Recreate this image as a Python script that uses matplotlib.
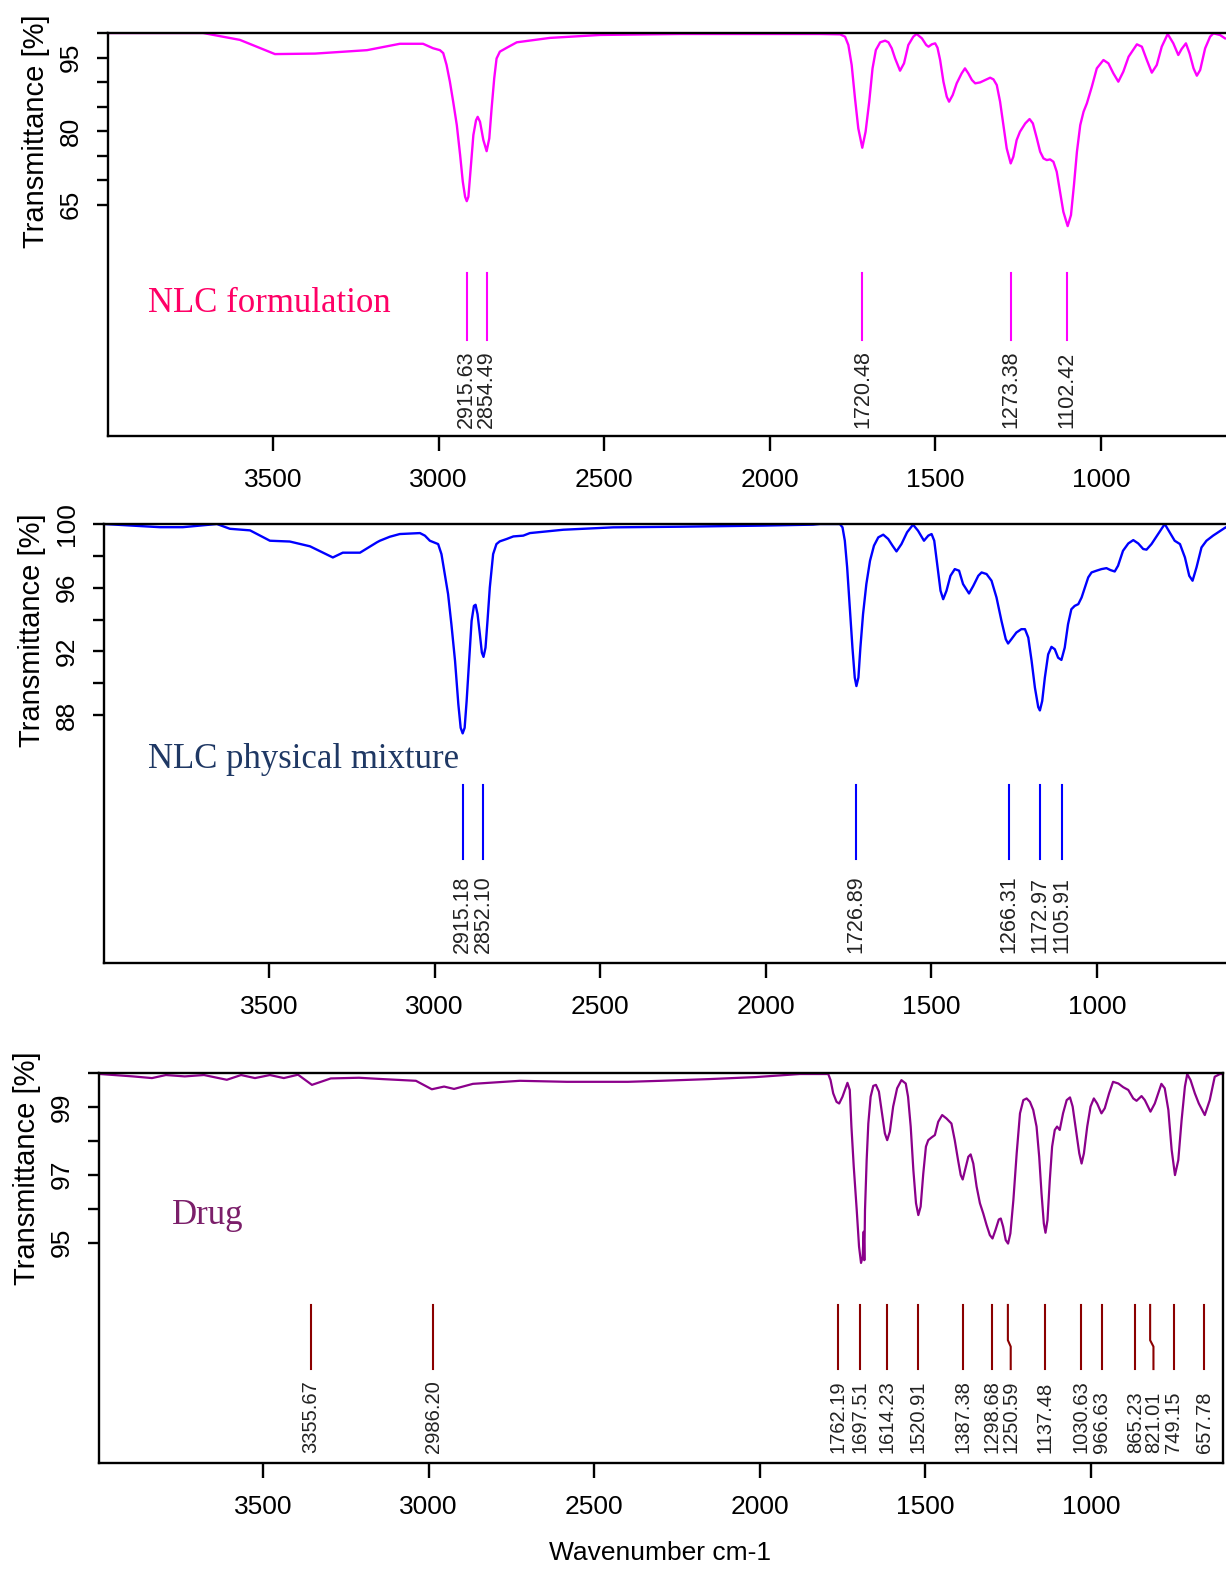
import matplotlib
matplotlib.use('Agg')
from matplotlib import pyplot as plt
from matplotlib import font_manager as fm

# ---- data ----
form_wn = [3998, 3711, 3600, 3494, 3373, 3216, 3117, 3047, 3017, 2996, 2986, 2976,
           2966, 2956, 2945, 2935, 2927, 2920, 2915, 2910, 2903, 2895, 2887, 2882,
           2875, 2865, 2855, 2847, 2840, 2832, 2825, 2815, 2794, 2764, 2664, 2513,
           2271, 1848, 1788, 1773, 1763, 1753, 1743, 1733, 1721, 1711, 1700, 1690,
           1680, 1667, 1652, 1642, 1632, 1622, 1607, 1595, 1582, 1567, 1557, 1541,
           1528, 1521, 1511, 1501, 1494, 1486, 1476, 1466, 1459, 1448, 1436, 1421,
           1411, 1401, 1390, 1380, 1365, 1350, 1335, 1325, 1315, 1305, 1295, 1285,
           1273, 1265, 1255, 1245, 1229, 1216, 1206, 1194, 1184, 1174, 1164, 1154,
           1144, 1134, 1124, 1114, 1101, 1091, 1082, 1073, 1063, 1053, 1043, 1028,
           1013, 993, 978, 963, 948, 933, 917, 892, 877, 862, 847, 832, 817, 799,
           782, 767, 757, 744, 733, 721, 711, 701, 686, 671, 661, 641, 626]
form_tr = [100, 100, 98.6, 95.7, 95.8, 96.5, 97.8, 97.8, 96.9, 96.5, 95.9, 93.5,
           90.1, 86.0, 81.2, 75.1, 69.7, 66.6, 65.7, 66.6, 72.4, 79.2, 82.2, 82.9,
           81.9, 78.2, 75.9, 78.5, 84.6, 90.8, 94.8, 96.2, 97.0, 98.1, 99.0, 99.6,
           99.8, 99.8, 99.73, 99.25, 97.55, 93.47, 86.67, 80.54, 76.6, 79.86, 85.99, 92.79,
           96.53, 98.10, 98.44, 98.10, 96.87, 94.83, 92.31, 93.81, 97.55, 99.25, 99.80, 98.91,
           97.55, 97.21, 97.69, 97.89, 97.01, 94.49, 90.07, 87.01, 85.99, 87.35, 89.73, 91.77,
           92.79, 91.77, 90.41, 89.73, 89.93, 90.41, 90.88, 90.54, 89.39, 85.99, 81.22, 76.46,
           73.4, 74.76, 78.16, 79.86, 81.56, 82.45, 81.56, 78.50, 75.78, 74.42, 74.08, 74.22,
           73.74, 71.70, 67.62, 63.54, 60.61, 62.86, 68.98, 75.78, 81.22, 83.95, 85.65, 89.05,
           92.79, 94.49, 93.81, 91.77, 90.07, 92.11, 95.17, 97.69, 97.21, 94.49, 91.91, 93.47,
           97.21, 99.80, 97.89, 95.51, 96.73, 97.89, 95.85, 92.79, 91.29, 92.45, 96.87, 99.25,
           99.93, 99.59, 98.91]
form_peaks = [2915.63, 2854.49, 1720.48, 1273.38, 1102.42]
form_labels = ['2915.63', '2854.49', '1720.48', '1273.38', '1102.42']

mix_wn = [3998, 3829, 3760, 3657, 3618, 3557, 3497, 3437, 3376, 3307, 3277, 3225,
          3174, 3165, 3135, 3105, 3044, 3029, 3014, 2989, 2979, 2969, 2959, 2949,
          2938, 2928, 2921, 2915, 2909, 2903, 2895, 2888, 2881, 2876, 2870, 2863,
          2857, 2852, 2846, 2840, 2833, 2823, 2813, 2803, 2782, 2762, 2732, 2712,
          2611, 2460, 2259, 2008, 1857, 1836, 1776, 1768, 1761, 1754, 1746, 1738,
          1731, 1726, 1720, 1714, 1706, 1696, 1685, 1673, 1660, 1645, 1630, 1617,
          1605, 1590, 1573, 1555, 1540, 1522, 1509, 1499, 1491, 1482, 1472, 1464,
          1454, 1442, 1429, 1416, 1404, 1386, 1373, 1358, 1348, 1333, 1318, 1303,
          1288, 1275, 1268, 1258, 1243, 1228, 1217, 1207, 1197, 1187, 1177, 1172,
          1165, 1157, 1147, 1137, 1127, 1117, 1107, 1097, 1087, 1077, 1067, 1056,
          1046, 1036, 1026, 1016, 1001, 986, 971, 959, 946, 936, 921, 905,
          890, 875, 860, 850, 835, 815, 795, 780, 765, 749, 734, 721,
          711, 699, 684, 669, 649, 629, 614, 605]
mix_tr = [100, 99.8, 99.8, 100, 99.7, 99.6, 98.95, 98.9, 98.6, 97.9, 98.2, 98.2,
          98.85, 98.95, 99.20, 99.37, 99.43, 99.27, 98.95, 98.74, 98.11, 96.86, 95.60, 93.71,
          91.41, 88.68, 87.21, 86.86, 87.21, 88.89, 91.61, 93.92, 94.86, 94.93, 94.34, 93.08,
          91.93, 91.66, 92.24, 93.92, 96.02, 98.11, 98.74, 98.91, 99.06, 99.22, 99.27, 99.43,
          99.64, 99.79, 99.83, 99.90, 99.96, 100, 100, 99.79, 98.95, 97.28, 94.76, 92.24,
          90.36, 89.83, 90.36, 92.24, 94.34, 96.23, 97.69, 98.64, 99.16, 99.33, 99.06, 98.64,
          98.28, 98.74, 99.48, 99.96, 99.58, 98.95, 99.27, 99.37, 98.95, 97.48, 95.81, 95.28,
          95.81, 96.75, 97.17, 97.07, 96.23, 95.64, 96.12, 96.75, 96.96, 96.86, 96.44, 95.39,
          93.92, 92.77, 92.50, 92.77, 93.19, 93.40, 93.40, 92.87, 91.41, 89.73, 88.51, 88.30,
          88.89, 90.36, 91.82, 92.29, 92.14, 91.61, 91.47, 92.24, 93.71, 94.65, 94.86, 94.97,
          95.39, 96.02, 96.65, 96.96, 97.07, 97.17, 97.23, 97.11, 97.02, 97.38, 98.32, 98.78,
          98.99, 98.78, 98.43, 98.39, 98.74, 99.37, 100, 99.48, 98.95, 98.74, 97.90, 96.75,
          96.44, 97.28, 98.53, 98.95, 99.27, 99.54, 99.75, 99.85]
mix_peaks = [2915.18, 2852.10, 1726.89, 1266.31, 1172.97, 1105.91]
mix_labels = ['2915.18', '2852.10', '1726.89', '1266.31', '1172.97', '1105.91']

drug_wn = [3992, 3893, 3835, 3793, 3736, 3678, 3609, 3566, 3524, 3479, 3437, 3394,
           3352, 3295, 3210, 3138, 3038, 2990, 2953, 2923, 2866, 2724, 2582, 2398,
           2298, 2153, 2011, 1879, 1793, 1786, 1778, 1768, 1760, 1750, 1735, 1728,
           1723, 1716, 1707, 1700, 1694, 1689, 1686, 1684, 1682, 1677, 1672, 1665,
           1657, 1649, 1640, 1629, 1622, 1615, 1607, 1597, 1585, 1572, 1559, 1552,
           1544, 1536, 1528, 1521, 1514, 1506, 1498, 1491, 1481, 1471, 1461, 1449,
           1436, 1421, 1411, 1401, 1393, 1387, 1380, 1370, 1363, 1355, 1345, 1335,
           1325, 1315, 1305, 1297, 1288, 1278, 1272, 1265, 1257, 1250, 1243, 1234,
           1224, 1214, 1204, 1194, 1184, 1174, 1164, 1156, 1149, 1142, 1137, 1131,
           1124, 1117, 1109, 1102, 1094, 1084, 1073, 1063, 1055, 1045, 1035, 1028,
           1021, 1011, 1001, 991, 981, 968, 958, 945, 933, 917, 902, 887,
           872, 862, 847, 837, 820, 807, 787, 777, 766, 756, 746, 736,
           726, 716, 709, 699, 686, 674, 656, 641, 626, 610, 595]
drug_tr = [99.97, 99.9, 99.85, 99.94, 99.9, 99.94, 99.8, 99.94, 99.85, 99.94, 99.85, 99.95,
           99.65, 99.84, 99.86, 99.82, 99.77, 99.52, 99.6, 99.53, 99.68, 99.77, 99.74, 99.74,
           99.77, 99.82, 99.88, 99.97, 99.97, 99.79, 99.40, 99.15, 99.10, 99.30, 99.71, 99.50,
           98.42, 97.24, 95.96, 94.88, 94.40, 94.58, 95.32, 94.48, 95.96, 97.43, 98.51, 99.30,
           99.62, 99.65, 99.45, 98.71, 98.22, 98.02, 98.27, 99.01, 99.55, 99.79, 99.69, 99.30,
           98.42, 97.14, 96.16, 95.81, 96.06, 97.04, 97.83, 98.02, 98.10, 98.17, 98.56, 98.76,
           98.66, 98.51, 98.02, 97.43, 96.99, 96.86, 97.14, 97.53, 97.60, 97.33, 96.65, 96.16,
           95.86, 95.52, 95.22, 95.12, 95.37, 95.68, 95.71, 95.47, 95.07, 94.97, 95.27, 96.25,
           97.63, 98.81, 99.20, 99.25, 99.15, 98.91, 98.42, 97.53, 96.45, 95.56, 95.29, 95.66,
           96.84, 97.83, 98.32, 98.42, 98.32, 98.81, 99.20, 99.28, 99.01, 98.32, 97.63, 97.33,
           97.63, 98.42, 99.01, 99.25, 99.10, 98.81, 98.96, 99.40, 99.74, 99.69, 99.58, 99.50,
           99.25, 99.18, 99.32, 99.20, 98.86, 99.10, 99.68, 99.55, 98.91, 97.73, 96.99, 97.43,
           98.61, 99.60, 99.97, 99.79, 99.40, 99.10, 98.76, 99.20, 99.89, 99.97, 99.97]
drug_peaks = [3355.67, 2986.20, 1762.19, 1697.51, 1614.23, 1520.91, 1387.38, 1298.68,
              1250.59, 1137.48, 1030.63, 966.63, 865.23, 821.01, 749.15, 657.78]
drug_labels = ['3355.67', '2986.20', '1762.19', '1697.51', '1614.23', '1520.91',
               '1387.38', '1298.68', '1250.59', '1137.48', '1030.63', '966.63',
               '865.23', '821.01', '749.15', '657.78']
# where the label sits when it was nudged off its peak
drug_label_wn = [3355.67, 2986.20, 1762.19, 1697.51, 1614.23, 1520.91, 1387.38,
                 1298.68, 1242.0, 1137.48, 1030.63, 966.63, 865.23, 811.0, 749.15,
                 657.78]

x_ticks = [3500, 3000, 2500, 2000, 1500, 1000]

names = {f.name for f in fm.fontManager.ttflist}
NARROW = 'Liberation Sans Narrow' if 'Liberation Sans Narrow' in names else 'Liberation Sans'
TICK_FS = 20 if NARROW == 'Liberation Sans Narrow' else 19

W, H = 1226, 1572
fig = plt.figure(figsize=(W / 100, H / 100), dpi=100)


def box(l, t, r, b):
    return [l / W, 1 - b / H, (r - l) / W, (b - t) / H]


def setup(ax, xlim, ylim, yticks, yticklabels, right_spine):
    ax.set_xlim(*xlim)
    ax.set_ylim(*ylim)
    for s in ax.spines.values():
        s.set_linewidth(1.7)
    ax.spines['right'].set_visible(right_spine)
    ax.set_xticks(x_ticks)
    ax.set_xticklabels([str(t) for t in x_ticks], family=NARROW, fontsize=TICK_FS)
    ax.set_yticks(yticks)
    ax.set_yticklabels(yticklabels, family=NARROW, fontsize=TICK_FS,
                       rotation=90, va='center')
    ax.tick_params(axis='x', length=11, width=1.7, pad=12)
    ax.tick_params(axis='y', length=8, width=1.7, pad=10)
    ax.text(-0.064, 0.757, 'Transmittance [%]', transform=ax.transAxes,
            rotation=90, ha='center', va='center', family='Liberation Sans',
            fontsize=21)


def peaks(ax, pk, labels, top, bottom, ly, color, fs, label_wn=None):
    if label_wn is None:
        label_wn = pk
    knee1 = top - 0.55 * (top - bottom)
    knee2 = top - 0.65 * (top - bottom)
    for p, q, lab in zip(pk, label_wn, labels):
        if p == q:
            ax.plot([p, p], [top, bottom], color=color, lw=1.5)
        else:
            ax.plot([p, p, q, q], [top, knee1, knee2, bottom], color=color, lw=1.5)
        ax.text(q, ly, lab, rotation=90, ha='center', va='bottom',
                family='Liberation Sans', fontsize=fs, color='#222222')


# NLC formulation
ax1 = fig.add_axes(box(108, 33, 1226, 436))
ax1.plot(form_wn, form_tr, color='#ff00ff', lw=1.7)
setup(ax1, (3998, 623), (17.8, 100), [65, 70, 75, 80, 85, 90, 95, 100],
      ['65', '', '', '80', '', '', '95', ''], False)
peaks(ax1, form_peaks, form_labels, 51.0, 37.3, 19.4, '#ff00ff', 15.5)
ax1.text(3877, 44.9, 'NLC formulation', family='Liberation Serif', fontsize=25,
         color='#ff0066', ha='left', va='center')

# NLC physical mixture
ax2 = fig.add_axes(box(104, 524, 1226, 963))
ax2.plot(mix_wn, mix_tr, color='#0000ff', lw=1.7)
setup(ax2, (3998, 610), (72.45, 100), [88, 90, 92, 94, 96, 98, 100],
      ['88', '', '92', '', '96', '', '100'], False)
peaks(ax2, mix_peaks, mix_labels, 83.6, 79.0, 73.1, '#0000ff', 15.5)
ax2.text(3865, 85.2, 'NLC physical mixture', family='Liberation Serif', fontsize=25,
         color='#1f3864', ha='left', va='center')

# Drug
ax3 = fig.add_axes(box(99, 1073, 1223, 1463))
ax3.plot(drug_wn, drug_tr, color='#8b008b', lw=1.6)
setup(ax3, (3995, 601), (88.5, 100), [95, 96, 97, 98, 99, 100],
      ['95', '', '97', '', '99', ''], True)
peaks(ax3, drug_peaks, drug_labels, 93.16, 91.27, 88.8, '#8b0000', 14.5, drug_label_wn)
ax3.text(3775, 95.8, 'Drug', family='Liberation Serif', fontsize=25,
         color='#7b1f6a', ha='left', va='center')

fig.text(660 / W, 1 - 1553 / H, 'Wavenumber cm-1', family=NARROW,
         fontsize=TICK_FS, ha='center', va='center')

fig.savefig('out.png', dpi=100)
